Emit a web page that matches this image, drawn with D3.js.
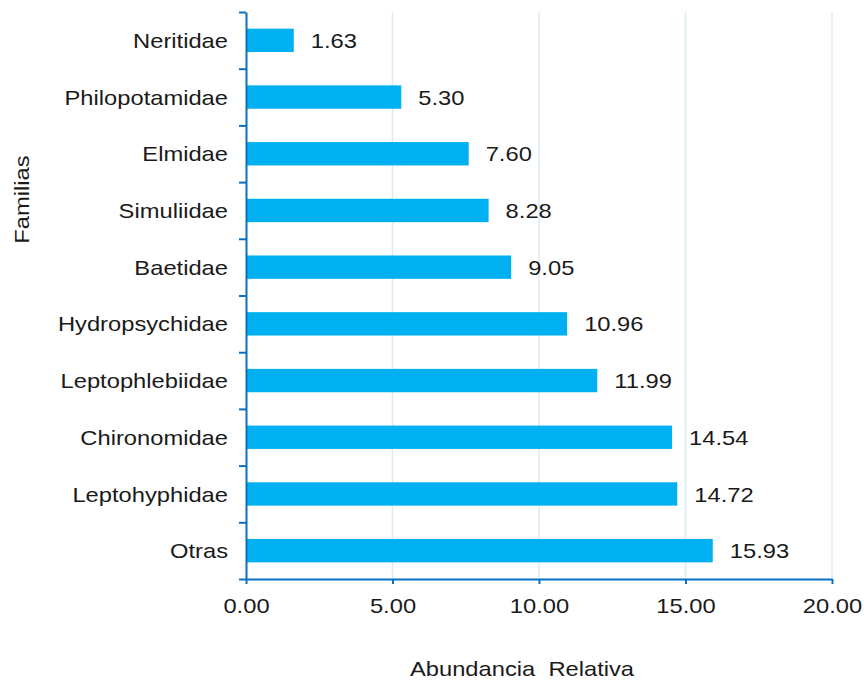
<!DOCTYPE html>
<html>
<head>
<meta charset="utf-8">
<script src="https://cdn.jsdelivr.net/npm/d3@7"></script>
<style>
  html, body { margin: 0; padding: 0; background: #fff; }
  svg { display: block; font-family: Arial, "Liberation Sans", sans-serif; }
</style>
</head>
<body>
<svg id="chart" width="864" height="683"></svg>
<script>
// Relative abundance of macroinvertebrate families
const families = ["Neritidae", "Philopotamidae", "Elmidae", "Simuliidae", "Baetidae",
  "Hydropsychidae", "Leptophlebiidae", "Chironomidae", "Leptohyphidae", "Otras"];
const abundance = [1.63, 5.30, 7.60, 8.28, 9.05, 10.96, 11.99, 14.54, 14.72, 15.93];
const xTicks = [0, 5, 10, 15, 20];
const xTitle = "Abundancia  Relativa";
const yTitle = "Familias";

const svg = d3.select("#chart");
const plotLeft = 246, plotRight = 832, plotTop = 12, plotBottom = 579;
const axisColor = "#0a70c2", barColor = "#00b0f0", gridColor = "#dcecf6";
const textColor = "#1a1a1a";
const fontSize = 21;
const stretch = 1.13; // slightly wide lettering

const x = d3.scaleLinear().domain([0, 20]).range([plotLeft, plotRight]);
const y = d3.scaleBand().domain(families).range([plotTop, plotBottom])
  .paddingInner(0.588).paddingOuter(0.294);
// boundaries between categories for the tick marks of the category axis
const yEdge = d3.scaleLinear().domain([0, families.length]).range([plotTop, plotBottom]);

// vertical gridlines
svg.append("g").selectAll("line").data(xTicks.filter(d => d > 0)).join("line")
  .attr("x1", d => x(d)).attr("x2", d => x(d))
  .attr("y1", plotTop).attr("y2", plotBottom)
  .attr("stroke", gridColor).attr("stroke-width", 1.5);

// bars
svg.append("g").selectAll("rect").data(abundance).join("rect")
  .attr("x", x(0))
  .attr("y", (d, i) => y(families[i]))
  .attr("width", d => x(d) - x(0))
  .attr("height", y.bandwidth())
  .attr("fill", barColor);

// value labels
svg.append("g").selectAll("text").data(abundance).join("text")
  .attr("transform", (d, i) =>
    `translate(${x(d) + 17},${y(families[i]) + y.bandwidth() / 2}) scale(${stretch},1)`)
  .attr("dy", "0.36em")
  .attr("font-size", fontSize)
  .attr("fill", textColor)
  .text(d => d.toFixed(2));

// x axis
const gx = svg.append("g").attr("transform", `translate(0,${plotBottom})`)
  .call(d3.axisBottom(x).tickValues(xTicks).tickFormat(d3.format(".2f"))
    .tickSizeInner(5).tickSizeOuter(0).tickPadding(14));
gx.select(".domain").attr("stroke", axisColor).attr("stroke-width", 2);
gx.selectAll(".tick line").attr("stroke", axisColor).attr("stroke-width", 2);
gx.selectAll(".tick text").attr("font-size", fontSize).attr("fill", textColor)
  .attr("font-family", "Arial, 'Liberation Sans', sans-serif")
  .attr("transform", `scale(${stretch},1)`);

// category axis with ticks between categories
const gy = svg.append("g").attr("transform", `translate(${plotLeft},0)`)
  .call(d3.axisLeft(yEdge).ticks(families.length).tickFormat("")
    .tickSizeInner(7).tickSizeOuter(0));
gy.select(".domain").attr("stroke", axisColor).attr("stroke-width", 2);
gy.selectAll(".tick line").attr("stroke", axisColor).attr("stroke-width", 2);

// category labels
svg.append("g").selectAll("text").data(families).join("text")
  .attr("transform", d =>
    `translate(${plotLeft - 18},${y(d) + y.bandwidth() / 2}) scale(${stretch},1)`)
  .attr("dy", "0.36em")
  .attr("text-anchor", "end")
  .attr("font-size", fontSize)
  .attr("fill", textColor)
  .text(d => d);

// axis titles
svg.append("text")
  .attr("transform", `translate(${(plotLeft + plotRight) / 2 - 17},676) scale(${stretch},1)`)
  .attr("text-anchor", "middle")
  .attr("font-size", fontSize)
  .attr("fill", textColor)
  .style("white-space", "pre")
  .text(xTitle);

svg.append("text")
  .attr("transform",
    `translate(29,${(plotTop + plotBottom) / 2 - 96}) rotate(-90) scale(${stretch},1)`)
  .attr("text-anchor", "middle")
  .attr("font-size", fontSize)
  .attr("fill", textColor)
  .text(yTitle);
</script>
</body>
</html>
